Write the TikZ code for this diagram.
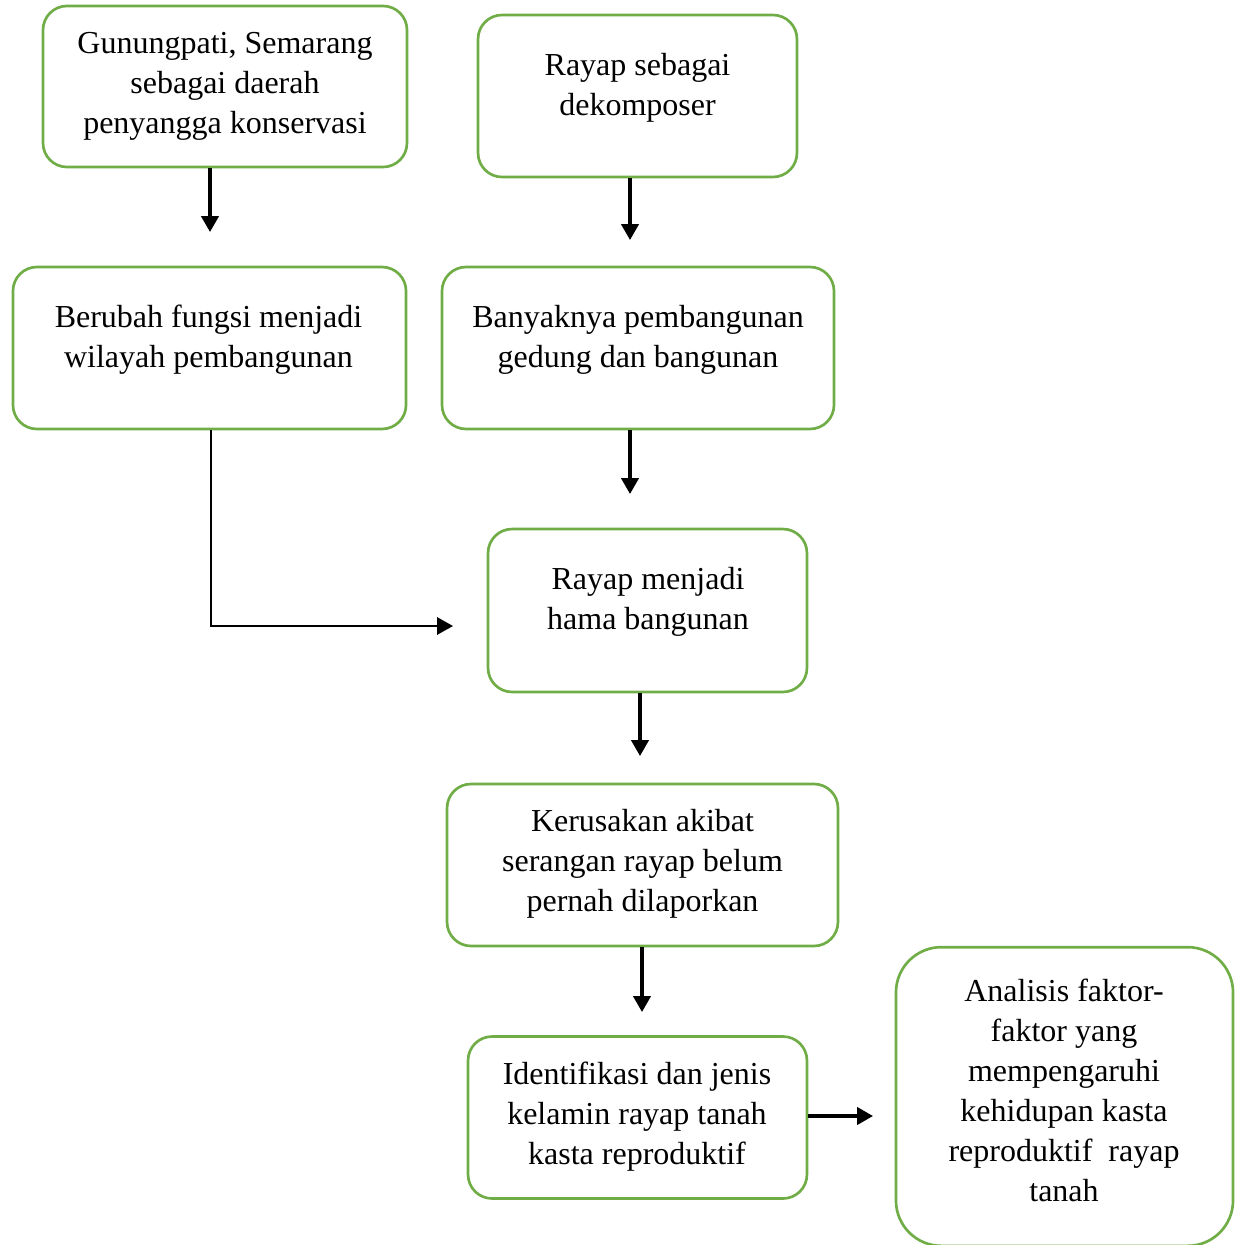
\documentclass[tikz,border=0pt]{standalone}
\usepackage{fontspec}
\setmainfont{Liberation Serif}
\usetikzlibrary{arrows.meta}
\definecolor{boxgreen}{RGB}{112,173,71}

\begin{document}
\begin{tikzpicture}[x=0.375pt,y=-0.375pt,>={Triangle[length=6pt,width=6.5pt]},
    box/.style={rectangle,draw=boxgreen,line width=1pt,rounded corners=9pt,minimum height=60.75pt,inner sep=0pt},
    txt/.style={align=center,inner sep=0pt,font=\fontsize{12}{15}\selectfont},
    flow/.style={->,line width=1.25pt},
    elbow/.style={->,line width=0.8pt}]
		\useasboundingbox (0,0) rectangle (1235,1245);

		% boxes
		\node[box,minimum width=136.5pt,minimum height=60.4pt] (1) at (225,86.5) {};
		\node[box,minimum width=119.6pt] (2) at (637.5,96) {};
		\node[box,minimum width=147.4pt] (3) at (209.5,348) {};
		\node[box,minimum width=147pt] (4) at (638,348) {};
		\node[box,minimum width=119.6pt,minimum height=61.1pt] (5) at (647.5,610.5) {};
		\node[box,minimum width=146.6pt] (6) at (642.5,865) {};
		\node[box,minimum width=127.1pt] (7) at (637.5,1117.5) {};
		\node[box,minimum width=126.4pt,minimum height=112pt,rounded corners=17pt] (8) at (1064.5,1096.5) {};

		% texts
		\node[txt] (1t) at (225,86.5) {Gunungpati, Semarang\\sebagai daerah\\penyangga konservasi};
		\node[txt] (2t) at (637.5,87.5) {Rayap sebagai\\dekomposer};
		\node[txt] (3t) at (208.5,340) {Berubah fungsi menjadi\\wilayah pembangunan};
		\node[txt] (4t) at (638,340) {Banyaknya pembangunan\\gedung dan bangunan};
		\node[txt] (5t) at (648,601.5) {Rayap menjadi\\hama bangunan};
		\node[txt] (6t) at (642.5,864) {Kerusakan akibat\\serangan rayap belum\\pernah dilaporkan};
		\node[txt] (7t) at (637,1117) {Identifikasi dan jenis\\kelamin rayap tanah\\kasta reproduktif};
		\node[txt] (8t) at (1064,1090) {Analisis faktor-\\faktor yang\\mempengaruhi\\kehidupan kasta\\reproduktif~ rayap\\tanah};

		% free ends of the arrows
		\coordinate (a1) at (210,232);
		\coordinate (a2) at (630,240);
		\coordinate (a3) at (211,626);
		\coordinate (a4) at (453,626);
		\coordinate (a5) at (630,494);
		\coordinate (a6) at (640,756);
		\coordinate (a7) at (642,1012);
		\coordinate (a8) at (873,1116);

		\draw[flow] (a1 |- 1.south) -- (a1);
		\draw[flow] (a2 |- 2.south) -- (a2);
		\draw[elbow] (a3 |- 3.south) -- (a3) -- (a4);
		\draw[flow] (a5 |- 4.south) -- (a5);
		\draw[flow] (a6 |- 5.south) -- (a6);
		\draw[flow] (a7 |- 6.south) -- (a7);
		\draw[flow] (a8 -| 7.east) -- (a8);
\end{tikzpicture}
\end{document}
